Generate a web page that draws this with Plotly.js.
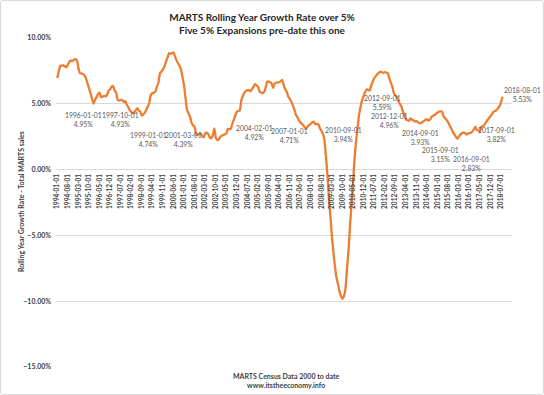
<!DOCTYPE html>
<html>
<head>
<meta charset="utf-8">
<script src="https://cdn.plot.ly/plotly-3.0.1.min.js"></script>
<style>
html,body{margin:0;padding:0;background:#fff;}
#chart{position:absolute;left:0;top:0;width:544px;height:395px;}
#frame{position:absolute;left:0;top:0;width:542px;height:393px;border:1px solid #d9d9d9;border-radius:3px;pointer-events:none;}
</style>
</head>
<body>
<div id="chart"></div>
<div id="frame"></div>
<script>
// ---- data ----
var startYear = 1994, startMonth = 1; // first category: 1994-01-01, monthly
var growthPct = [
 6.95,7.5,7.89,7.9,7.91,7.85,7.76,7.96,8.2,8.3,8.24,8.35,
 8.40,8.3,7.71,7.33,7.3,7.26,7.15,6.95,6.57,6.2,5.81,5.4,
 5.0,5.3,5.5,5.75,5.85,5.5,5.55,5.6,5.55,5.7,6.0,6.1,
 6.3,6.35,6.0,5.85,5.3,5.25,5.28,5.3,5.14,5.2,4.95,4.75,
 4.53,4.4,4.28,4.35,4.5,4.66,4.5,4.4,4.1,4.2,4.33,4.55,
 4.79,5.1,5.68,5.8,5.85,5.93,6.3,6.6,7.33,7.45,7.6,7.84,
 8.2,8.5,8.86,8.8,8.85,8.9,8.6,8.3,8.09,7.9,7.6,7.0,
 6.4,5.4,4.53,4.25,4.0,3.55,3.35,3.25,2.63,2.66,2.7,2.75,
 2.55,2.45,2.75,2.8,2.7,2.45,2.38,2.6,3.14,2.45,2.25,2.3,
 2.5,2.58,2.63,2.68,2.72,3.1,3.07,3.1,3.5,3.8,4.15,4.4,
 4.45,4.5,5.3,5.6,5.85,5.98,6.02,6.05,5.95,6.1,6.31,6.49,
 6.4,6.31,5.95,5.85,5.81,5.9,6.2,6.69,6.69,6.64,6.55,6.2,
 6.56,6.6,6.62,6.65,6.7,6.82,6.44,6.1,5.93,5.55,5.4,5.17,
 4.9,4.59,4.2,4.0,3.77,3.6,3.47,3.37,3.2,3.14,3.3,3.4,
 3.5,3.6,3.64,3.45,3.45,3.45,3.14,2.95,2.7,2.25,1.0,-0.4,
 -2.2,-3.6,-5.1,-6.3,-7.4,-8.2,-8.7,-9.25,-9.6,-9.82,-9.6,-9.0,
 -7.5,-6.1,-4.2,-2.6,-0.9,0.9,2.2,3.2,4.2,4.8,5.3,5.6,
 5.9,6.1,6.05,6.0,6.4,6.7,6.95,7.1,7.25,7.35,7.45,7.4,
 7.35,7.4,7.38,7.3,6.95,6.6,6.31,5.81,5.65,5.5,5.2,5.0,
 4.79,4.4,4.15,3.8,3.75,3.7,3.9,3.8,3.75,3.64,3.68,3.6,
 3.52,3.55,3.62,3.7,3.78,3.83,3.72,3.8,4.0,4.1,4.15,4.25,
 4.33,4.41,4.42,4.41,4.03,3.9,3.77,3.6,3.35,3.14,2.9,2.7,
 2.5,2.35,2.5,2.65,2.76,2.8,2.8,2.65,2.75,2.78,2.8,2.9,
 3.05,3.26,3.0,2.98,2.95,3.26,3.3,3.39,3.6,3.75,3.9,4.05,
 4.2,4.4,4.45,4.53,4.65,4.8,5.1,5.53
];
var tickStepMonths = 7; // every 7th category is labelled
var labelDates  = ['1996-01-01','1997-10-01','1999-01-01','2001-03-01','2004-02-01','2007-01-01','2010-09-01','2012-09-01','2012-12-01','2014-09-01','2015-09-01','2016-09-01','2017-09-01','2018-08-01'];
var labelValues = ['4.95%','4.93%','4.74%','4.39%','4.92%','4.71%','3.94%','5.59%','4.96%','3.93%','3.15%','2.83%','3.82%','5.53%'];
var titleText = 'MARTS Rolling Year Growth Rate over 5%<br>Five 5% Expansions pre-date this one';
var yTitleText = 'Rolling Year Growth Rate - Total MARTS sales';
var xTitleText = 'MARTS Census Data 2000 to date<br>www.itstheeconomy.info';

// ---- categories (month strings) ----
function pad(n){return (n<10?'0':'')+n;}
var categories = [];
for (var i=0;i<growthPct.length;i++){
  var mm = startMonth-1+i;
  categories.push((startYear+Math.floor(mm/12))+'-'+pad(mm%12+1)+'-01');
}
var tickCats = categories.filter(function(c,i){return i%tickStepMonths===0;});

// ---- label positions (pixel-derived, paper coords) ----
var PL=56, PR=512, PT=38, PB=367;
function px(x){return (x-PL)/(PR-PL);}
function py(y){return (PB-y)/(PB-PT);}
var labelPos = [[83,119.5],[120,119.5],[148,139.5],[183,139.5],[254,132],[289,135.5],[343,134],[382,102],[389,121],[420,137.5],[440,154.5],[471,163],[496,134.5],[522,94.5]];

var annotations = labelDates.map(function(d,i){
  return {xref:'paper',yref:'paper',x:px(labelPos[i][0]),y:py(labelPos[i][1]),
    text:d+'<br>'+labelValues[i],showarrow:false,xanchor:'center',yanchor:'middle',
    font:{family:'Lato',size:6.8,color:'#595959'}};
});
annotations.push({xref:'paper',yref:'paper',x:px(21),y:py(202),text:yTitleText,textangle:-90,
  showarrow:false,xanchor:'center',yanchor:'middle',font:{family:'Lato',size:7,color:'#404040',weight:'bold'}});
annotations.push({xref:'paper',yref:'paper',x:px(286),y:py(380),text:xTitleText,
  showarrow:false,xanchor:'center',yanchor:'middle',font:{family:'Lato',size:7,color:'#404040',weight:'bold'}});

var trace = {
  type:'scatter',mode:'lines',x:categories,y:growthPct,
  line:{color:'#ED7D31',width:2.3,shape:'spline',smoothing:0.3},
  hoverinfo:'skip'
};

var layout = {
  width:544,height:395,
  margin:{l:PL,r:544-PR,t:PT,b:395-PB},
  paper_bgcolor:'#ffffff',plot_bgcolor:'#ffffff',
  showlegend:false,
  title:{text:titleText,x:262/544,xanchor:'center',xref:'container',y:1-21/395,yanchor:'middle',yref:'container',
    font:{family:'Lato',size:10,color:'#262626',weight:'bold'}},
  xaxis:{type:'category',range:[-0.86,301.3],anchor:'free',position:0.6,
    tickmode:'array',tickvals:tickCats,ticktext:tickCats,tickangle:-90,ticks:'',
    tickfont:{family:'Lato',size:6.5,color:'#404040',weight:'bold'},
    ticklabelstandoff:2,
    showgrid:false,zeroline:false,showline:false,fixedrange:true},
  yaxis:{range:[-15,10],dtick:5,tick0:0,tickformat:'.2f',ticksuffix:'%',
    tickfont:{family:'Lato',size:7,color:'#404040',weight:'bold'},
    showgrid:true,gridcolor:'#d9d9d9',gridwidth:1,zeroline:false,showline:false,ticks:'',
    ticklabelstandoff:4,fixedrange:true},
  annotations:annotations
};

Plotly.newPlot('chart',[trace],layout,{displayModeBar:false,staticPlot:true});
</script>
</body>
</html>
